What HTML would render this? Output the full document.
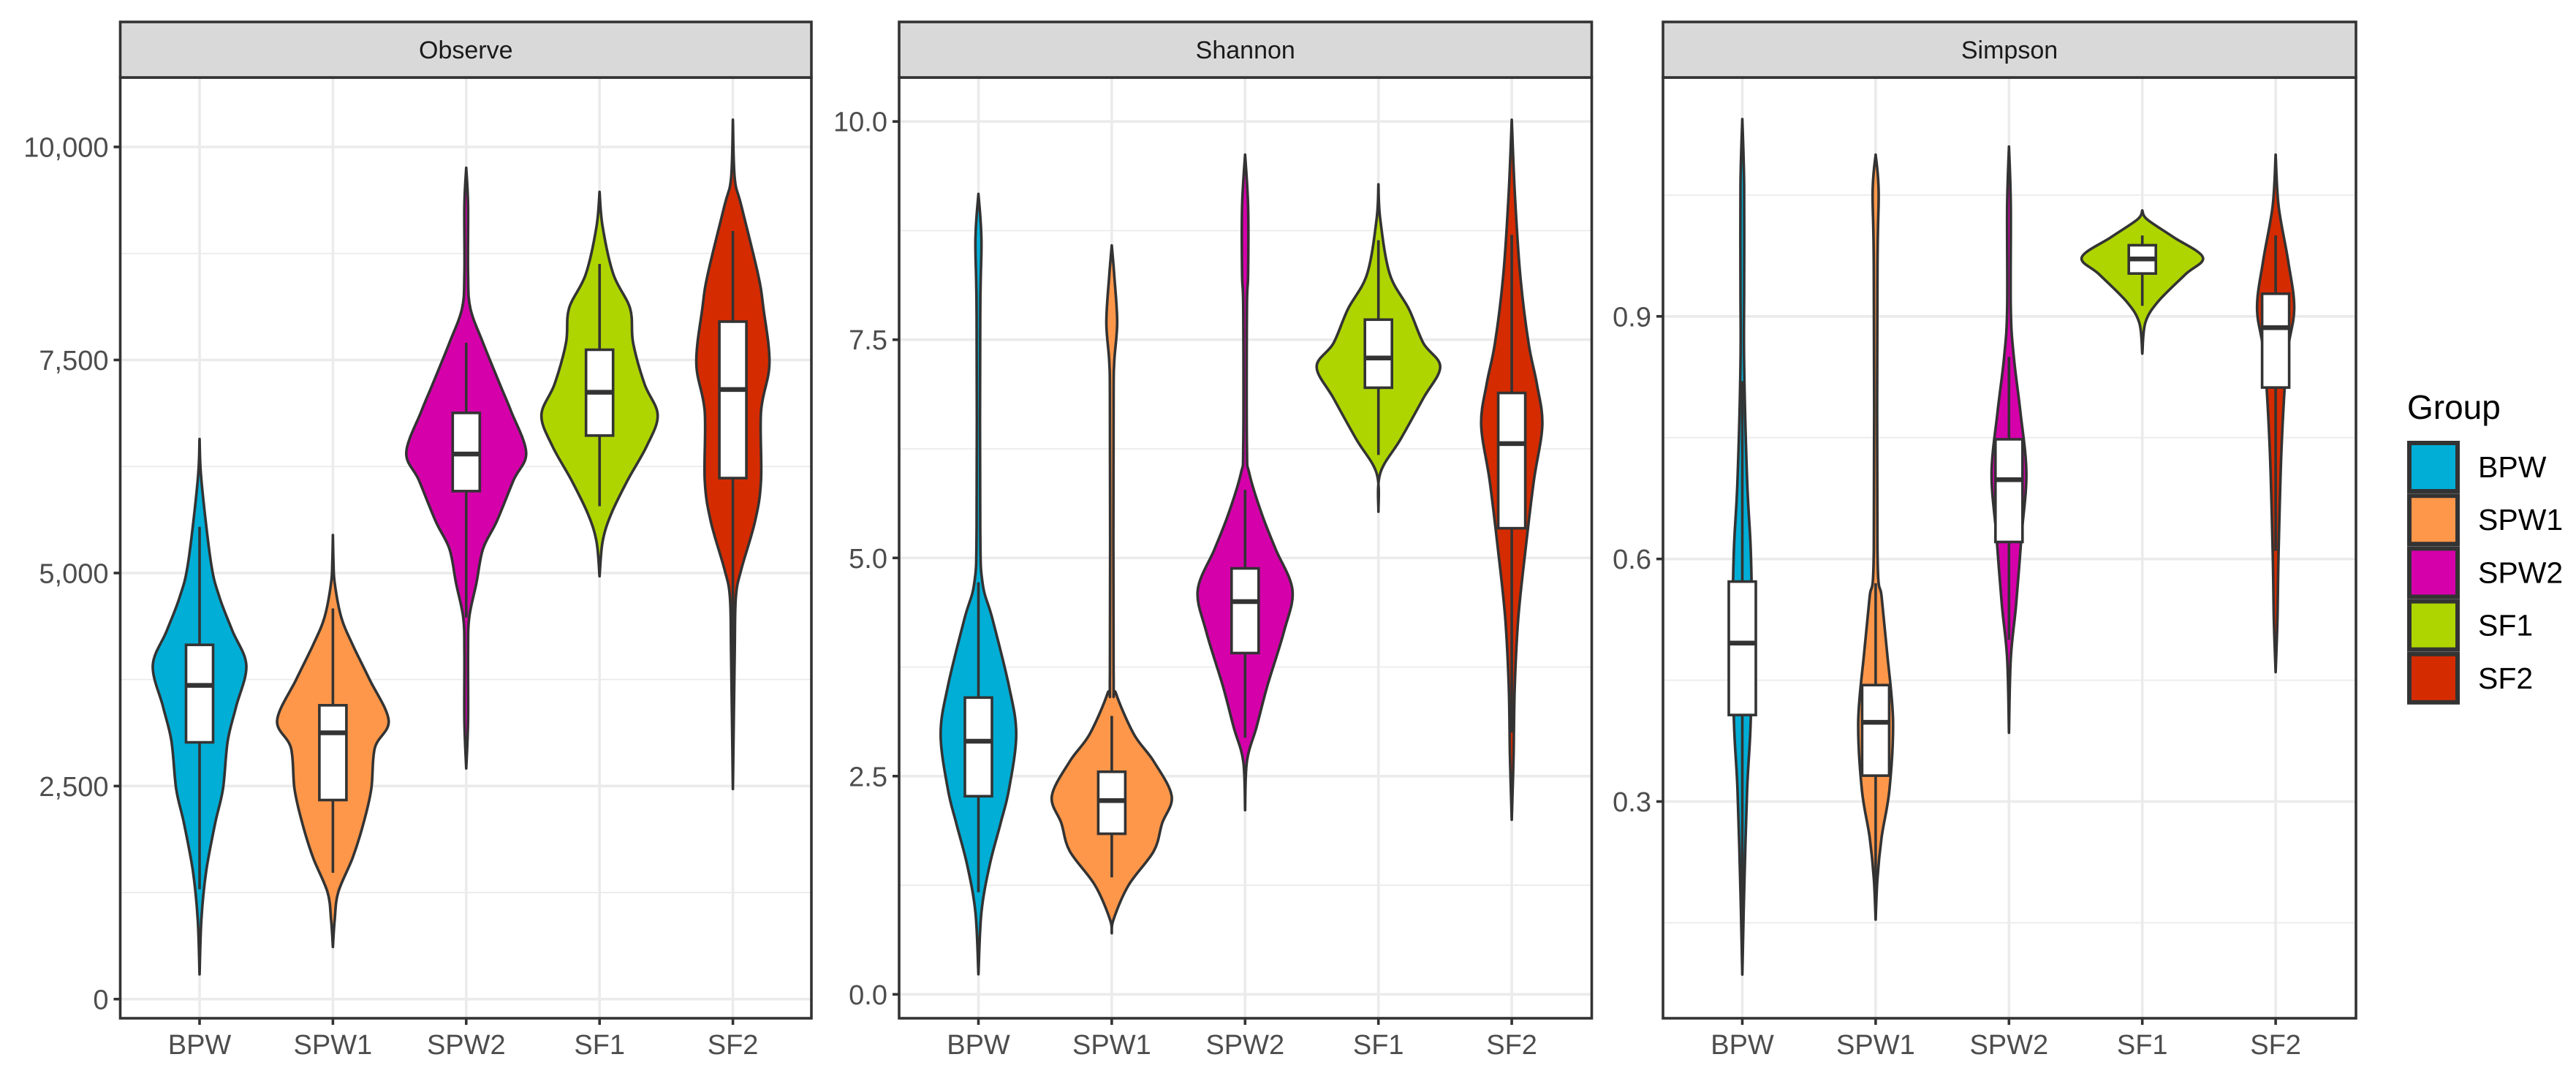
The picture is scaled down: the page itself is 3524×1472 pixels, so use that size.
<!DOCTYPE html>
<html><head><meta charset="utf-8">
<style>
html,body{margin:0;padding:0;background:#fff;}
svg{display:block;font-family:"Liberation Sans",sans-serif;}
</style></head>
<body>
<svg id="chart" width="3524" height="1472" viewBox="0 0 3524 1472" xmlns="http://www.w3.org/2000/svg"></svg>
<script>
const categories = ["BPW","SPW1","SPW2","SF1","SF2"];
const groupColors = ["#00aed6","#ff974a","#d500aa","#aed500","#d52b00"];
const panelTitles = ["Observe","Shannon","Simpson"];

const observeTicks = [0,2500,5000,7500,10000];
const observeTickLabels = ["0","2,500","5,000","7,500","10,000"];
const shannonTicks = [0,2.5,5,7.5,10];
const shannonTickLabels = ["0.0","2.5","5.0","7.5","10.0"];
const simpsonTicks = [0.3,0.6,0.9];
const simpsonTickLabels = ["0.3","0.6","0.9"];

// violin profiles: values and relative half-widths
const observeViolinY = [
 [6573,6090,5123,4720,4318,3915,3432,3029,2465,2062,1498,934,290],
 [5446,5123,4881,4479,4157,3754,3270,2948,2465,2062,1659,1257,934,612],
 [9755,9312,8506,8104,7701,7218,6896,6412,6090,5607,5284,4881,4479,4076,3271,2707],
 [9473,9070,8506,8104,7701,7218,6855,6493,6090,5687,5365,4962],
 [10319,9634,9312,8506,8104,7459,6896,6090,5607,5043,4720,4076,2465]];
const observeViolinW = [
 [0,0.03,0.19,0.33,0.55,0.78,0.61,0.47,0.39,0.26,0.11,0.03,0],
 [0,0.01,0.03,0.14,0.33,0.61,0.93,0.70,0.64,0.51,0.33,0.09,0.03,0],
 [0,0.03,0.03,0.07,0.28,0.56,0.75,1.0,0.79,0.51,0.28,0.17,0.05,0.03,0.03,0],
 [0,0.05,0.23,0.51,0.56,0.75,0.97,0.79,0.47,0.19,0.05,0],
 [0,0.03,0.14,0.42,0.51,0.61,0.47,0.47,0.37,0.14,0.05,0.03,0]];
const observeBox = [ // lowerWhisker, q1, median, q3, upperWhisker
 [1289,3013,3681,4157,5542],
 [1482,2336,3125,3448,4584],
 [4479,5961,6396,6879,7701],
 [5784,6613,7121,7620,8627],
 [2600,6114,7153,7950,9014]];

const shannonViolinY = [
 [9.17,8.64,7.78,5.34,4.71,4.31,3.53,2.98,2.35,1.96,1.49,0.94,0.23],
 [8.58,8.25,7.70,7.23,6.67,3.69,3.45,2.98,2.67,2.27,1.96,1.64,1.25,0.86,0.70],
 [9.62,9.03,8.25,7.85,6.28,5.97,5.50,5.10,4.63,4.16,3.53,3.06,2.67,2.11],
 [9.28,8.88,8.25,7.85,7.46,7.19,6.83,6.36,5.97,5.53],
 [10.02,9.19,8.25,7.46,6.99,6.52,5.89,5.10,4.32,3.53,2.74,2.00]];
const shannonViolinW = [
 [0,0.05,0.03,0.03,0.07,0.23,0.51,0.63,0.51,0.37,0.19,0.05,0],
 [0,0.04,0.09,0.04,0.03,0.03,0.07,0.37,0.70,1.0,0.84,0.70,0.28,0.03,0],
 [0,0.05,0.05,0.03,0.03,0.07,0.28,0.51,0.79,0.65,0.37,0.19,0.03,0],
 [0,0.03,0.19,0.51,0.75,1.03,0.75,0.37,0.03,0],
 [0,0.05,0.14,0.28,0.42,0.51,0.37,0.23,0.11,0.05,0.03,0]];
const shannonBox = [
 [1.17,2.27,2.90,3.40,4.72],
 [1.34,1.84,2.22,2.55,3.19],
 [2.94,3.91,4.50,4.88,5.78],
 [6.18,6.95,7.29,7.73,8.64],
 [3.0,5.34,6.31,6.89,8.70]];

const simpsonViolinY = [
 [1.144,1.062,0.935,0.841,0.697,0.612,0.527,0.400,0.315,0.188,0.086],
 [1.100,1.054,0.952,0.612,0.553,0.485,0.400,0.315,0.256,0.205,0.154],
 [1.110,1.036,0.909,0.850,0.782,0.706,0.629,0.544,0.477,0.385],
 [1.031,1.020,0.998,0.973,0.952,0.918,0.892,0.854],
 [1.100,1.036,0.968,0.909,0.850,0.740,0.612,0.527,0.460]];
const simpsonViolinW = [
 [0,0.03,0.03,0.03,0.08,0.14,0.16,0.14,0.08,0.03,0],
 [0,0.05,0.03,0.03,0.10,0.19,0.29,0.23,0.10,0.03,0],
 [0,0.03,0.03,0.08,0.19,0.29,0.21,0.12,0.03,0],
 [0,0.08,0.52,1.01,0.72,0.26,0.05,0],
 [0,0.05,0.21,0.31,0.19,0.10,0.05,0.03,0]];
const simpsonBox = [
 [0.10,0.407,0.496,0.572,0.82],
 [0.17,0.332,0.398,0.444,0.57],
 [0.50,0.621,0.698,0.748,0.85],
 [0.913,0.953,0.971,0.988,1.0],
 [0.61,0.812,0.886,0.928,1.0]];

const NS="http://www.w3.org/2000/svg";
const svg=document.getElementById("chart");
function mk(tag,attrs,parent){const e=document.createElementNS(NS,tag);for(const k in attrs)e.setAttribute(k,attrs[k]);(parent||svg).appendChild(e);return e;}

const panels=[
 {left:164.5,right:1110,yAt:[0,1366.8,10000,201],ticks:observeTicks,labels:observeTickLabels,minor:[1250,3750,6250,8750],vy:observeViolinY,vw:observeViolinW,box:observeBox},
 {left:1230,right:2177.5,yAt:[0,1360.3,10,166.2],ticks:shannonTicks,labels:shannonTickLabels,minor:[1.25,3.75,6.25,8.75],vy:shannonViolinY,vw:shannonViolinW,box:shannonBox},
 {left:2275,right:3223,yAt:[0.3,1096.5,0.9,432.8],ticks:simpsonTicks,labels:simpsonTickLabels,minor:[0.15,0.45,0.75,1.05],vy:simpsonViolinY,vw:simpsonViolinW,box:simpsonBox}];
const TOP=106, BOT=1393, STRIP=30, MAXHW=82, BOXHW=18.5, DX=182.4, OFF0=108.5, LW=3.6;

function smoothSide(pts){
  let d="";
  for(let i=0;i<pts.length-1;i++){
    const p0=pts[Math.max(0,i-1)],p1=pts[i],p2=pts[i+1],p3=pts[Math.min(pts.length-1,i+2)];
    const c1=[p1[0]+(p2[0]-p0[0])/6,p1[1]+(p2[1]-p0[1])/6];
    const c2=[p2[0]-(p3[0]-p1[0])/6,p2[1]-(p3[1]-p1[1])/6];
    d+=" C"+c1[0].toFixed(1)+","+c1[1].toFixed(1)+" "+c2[0].toFixed(1)+","+c2[1].toFixed(1)+" "+p2[0].toFixed(1)+","+p2[1].toFixed(1);
  }
  return d;
}

panels.forEach((p,pi)=>{
  const g=mk("g",{});
  
  
  const y=v=>p.yAt[1]+(v-p.yAt[0])*(p.yAt[3]-p.yAt[1])/(p.yAt[2]-p.yAt[0]);
  const x=i=>p.left+OFF0+i*DX;
  mk("rect",{x:p.left,y:TOP,width:p.right-p.left,height:BOT-TOP,fill:"#fff"},g);
  p.minor.forEach(v=>{const l=mk("line",{x1:p.left,x2:p.right,y1:y(v),y2:y(v),stroke:"#ebebeb","stroke-width":1.8},g);
    });
  p.ticks.forEach(v=>{const l=mk("line",{x1:p.left,x2:p.right,y1:y(v),y2:y(v),stroke:"#ebebeb","stroke-width":3.6},g);
    });
  categories.forEach((c,i)=>{const l=mk("line",{x1:x(i),x2:x(i),y1:TOP,y2:BOT,stroke:"#ebebeb","stroke-width":3.6},g);
    });
  categories.forEach((c,i)=>{
    const vy=p.vy[i],vw=p.vw[i],cx=x(i);
    const right=vy.map((v,k)=>[cx+vw[k]*MAXHW,y(v)]);
    const left=vy.map((v,k)=>[cx-vw[k]*MAXHW,y(v)]).reverse();
    let d="M"+right[0][0].toFixed(1)+","+right[0][1].toFixed(1)+smoothSide(right)+" L"+left[0][0].toFixed(1)+","+left[0][1].toFixed(1)+smoothSide(left)+" Z";
    const vp=mk("path",{d:d,fill:groupColors[i],stroke:"#333","stroke-width":LW,"stroke-linejoin":"round"},g);
    
    
    const b=p.box[i];
    const wh=mk("line",{x1:cx,x2:cx,y1:y(b[0]),y2:y(b[4]),stroke:"#333","stroke-width":LW},g);
    
    
    const br=mk("rect",{x:cx-BOXHW,y:y(b[3]),width:2*BOXHW,height:y(b[1])-y(b[3]),fill:"#fff",stroke:"#333","stroke-width":LW},g);
    
    
    const md=mk("line",{x1:cx-BOXHW,x2:cx+BOXHW,y1:y(b[2]),y2:y(b[2]),stroke:"#333","stroke-width":6.5},g);
    
    
  });
  mk("rect",{x:p.left,y:TOP,width:p.right-p.left,height:BOT-TOP,fill:"none",stroke:"#333","stroke-width":LW},g);
  const st=mk("rect",{x:p.left,y:STRIP,width:p.right-p.left,height:TOP-STRIP,fill:"#d9d9d9",stroke:"#333","stroke-width":LW},g);
  
  
  const stt=mk("text",{x:(p.left+p.right)/2,y:80,"text-anchor":"middle","font-size":34,fill:"#1a1a1a"},g);
  stt.textContent=panelTitles[pi];
  
  
  p.ticks.forEach((v,k)=>{
    const tl=mk("line",{x1:p.left-9,x2:p.left,y1:y(v),y2:y(v),stroke:"#333","stroke-width":LW},g);
    
    
    const t=mk("text",{x:p.left-16,y:y(v)+13.5,"text-anchor":"end","font-size":38,fill:"#4d4d4d"},g);
    t.textContent=p.labels[k];
    
    
  });
  categories.forEach((c,i)=>{
    const tl=mk("line",{x1:x(i),x2:x(i),y1:BOT,y2:BOT+9,stroke:"#333","stroke-width":LW},g);
    
    
    const t=mk("text",{x:x(i),y:1442,"text-anchor":"middle","font-size":38,fill:"#4d4d4d"},g);
    t.textContent=c;
    
    
  });
});

const lg=mk("g",{});


const lt=mk("text",{x:3293,y:573,"font-size":46,fill:"#000"},lg);
lt.textContent="Group";


categories.forEach((c,i)=>{
  const y0=603+i*72.2;
  const r=mk("rect",{x:3296,y:y0+3,width:66,height:66,fill:groupColors[i],stroke:"#333","stroke-width":6},lg);
  
  
  const t=mk("text",{x:3390,y:y0+50,"font-size":41,fill:"#000"},lg);
  t.textContent=c;
  
  
});
</script>
</body></html>
